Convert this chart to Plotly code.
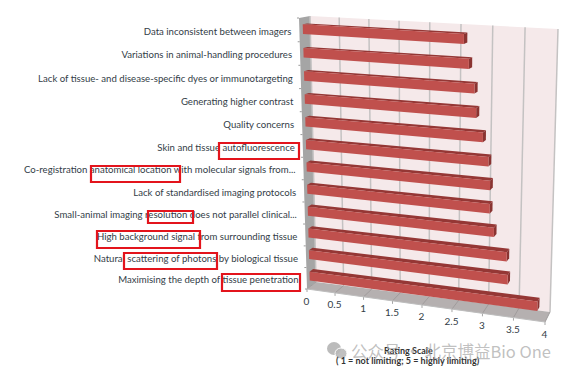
import numpy as np
import plotly.graph_objects as go

categories = [
    "Data inconsistent between imagers",
    "Variations in animal-handling procedures",
    "Lack of tissue- and disease-specific dyes or immunotargeting",
    "Generating higher contrast",
    "Quality concerns",
    "Skin and tissue autofluorescence",
    "Co-registration anatomical location with molecular signals from...",
    "Lack of standardised imaging protocols",
    "Small-animal imaging resolution does not parallel clinical...",
    "High background signal from surrounding tissue",
    "Natural scattering of photons by biological tissue",
    "Maximising the depth of tissue penetration",
]
values = [2.64, 2.72, 2.81, 2.84, 2.95, 3.04, 3.07, 3.07, 3.14, 3.35, 3.37, 3.85]
x_ticks = [0, 0.5, 1, 1.5, 2, 2.5, 3, 3.5, 4]
x_tick_labels = ["0", "0.5", "1", "1.5", "2", "2.5", "3", "3.5", "4"]
x_title = ["Rating Scale", "( 1 = not limiting; 5 = highly limiting)"]
watermark = "公众号 · 北京博益Bio One"


def homography(q):
    src = [(0, 0), (4, 0), (4, 12), (0, 12)]
    A, b = [], []
    for (s, t), (u, w) in zip(src, q):
        A.append([s, t, 1, 0, 0, 0, -u * s, -u * t]); b.append(u)
        A.append([0, 0, 0, s, t, 1, -w * s, -w * t]); b.append(w)
    return np.append(np.linalg.solve(np.array(A, float), np.array(b, float)), 1).reshape(3, 3)


FRONT = homography([(299, 18), (551, 33), (545, 322), (307, 289)])
BACK = homography([(310, 16), (558, 29), (550, 312), (316, 282)])


def proj(v, r, d):
    """value, row (0 top .. 12 bottom), depth (0 front .. 1 back) -> chart position."""
    a = FRONT @ [v, r, 1]
    b = BACK @ [v, r, 1]
    a, b = a[:2] / a[2], b[:2] / b[2]
    return (1 - d) * a + d * b


fig = go.Figure()


def poly(points, fill, line=None, width=0):
    xs = [p[0] for p in points] + [points[0][0]]
    ys = [p[1] for p in points] + [points[0][1]]
    fig.add_trace(go.Scatter(x=xs, y=ys, mode="lines", fill="toself", fillcolor=fill,
                             line=dict(color=line or fill, width=width),
                             hoverinfo="skip", showlegend=False))


def seg(a, b, color, width):
    fig.add_trace(go.Scatter(x=[a[0], b[0]], y=[a[1], b[1]], mode="lines",
                             line=dict(color=color, width=width),
                             hoverinfo="skip", showlegend=False))


# walls
poly([proj(0, 0, 0), proj(0, 0, 1), proj(0, 12, 1), proj(0, 12, 0)], "#a5a5a5")
poly([proj(0, 0, 1), proj(4, 0, 1), proj(4, 12, 1), proj(0, 12, 1)], "#f5e9ea")
poly([proj(0, 12, 0), proj(0, 12, 1), proj(4, 12, 1), proj(4, 12, 0)], "#b5b0b0")

# gridlines
for v in x_ticks:
    seg(proj(v, 0, 1), proj(v, 12, 1), "#c4c2c2", 1.5)
    seg(proj(v, 12, 1), proj(v, 12, 0), "#a09c9c", 1)
    p = proj(v, 12, 0)
    seg(p, p + np.array([0, 3]), "#a6a6a6", 1)
seg(proj(0, 12, 0), proj(4, 12, 0), "#bdbdbd", 1)
for r in range(13):
    p = proj(0, r, 0)
    seg(p, p + np.array([-2, 0]), "#9a9a9a", 1)

# bars
D0, D1, H = 0.32, 0.72, 0.205
for i, val in enumerate(values):
    c = i + 0.5
    t, b = c - H, c + H
    poly([proj(0, t, D0), proj(0, t, D1), proj(val, t, D1), proj(val, t, D0)], "#953735")
    poly([proj(val, t, D0), proj(val, t, D1), proj(val, b, D1), proj(val, b, D0)], "#8a3331")
    poly([proj(0, t, D0), proj(val, t, D0), proj(val, b, D0), proj(0, b, D0)], "#c0504d")

# text
FONT = "Lato"
lab = np.array([proj(0, i + 0.5, 0) for i in range(len(categories))])
fig.add_trace(go.Scatter(x=lab[:, 0] - 8, y=lab[:, 1] + 2.5, mode="text", text=categories,
                         textposition="middle left",
                         textfont=dict(family=FONT, size=9.6, color="#333d47"),
                         hoverinfo="skip", showlegend=False))
tk = np.array([proj(v, 12, 0) for v in x_ticks])
fig.add_trace(go.Scatter(x=tk[:, 0] - 0.5, y=tk[:, 1] + 13, mode="text", text=x_tick_labels,
                         textposition="middle center",
                         textfont=dict(family=FONT, size=10, color="#333d47"),
                         hoverinfo="skip", showlegend=False))

PAGE_MARGIN = 8  # the page body offsets the plot by this much
fig.update_layout(
    width=567 - PAGE_MARGIN, height=374 - PAGE_MARGIN, margin=dict(l=0, r=0, t=0, b=0),
    paper_bgcolor="white", plot_bgcolor="white", showlegend=False,
    xaxis=dict(range=[PAGE_MARGIN, 567], visible=False, fixedrange=True),
    yaxis=dict(range=[374, PAGE_MARGIN], visible=False, fixedrange=True),
    annotations=[
        dict(x=408, y=350, xref="x", yref="y", text=f"<b>{x_title[0]}</b>", showarrow=False,
             font=dict(family=FONT, size=9, color="#333333")),
        dict(x=408, y=360, xref="x", yref="y", text=f"<b>{x_title[1]}</b>", showarrow=False,
             font=dict(family=FONT, size=9, color="#333333")),
        dict(x=451, y=351, xref="x", yref="y", text=watermark, showarrow=False,
             font=dict(family="Noto Sans CJK SC", size=16.5, color="rgba(165,165,165,0.7)")),
    ],
    shapes=[
        dict(type="rect", xref="x", yref="y", x0=a, y0=b, x1=c, y1=d,
             line=dict(color="#e3141c", width=2.2))
        for a, b, c, d in [(219, 143, 299, 159), (91, 166, 180, 182), (148, 211, 193, 223),
                           (97, 231, 200, 248), (124, 253, 217, 269), (222, 274, 300, 291)]
    ] + [
        dict(type="circle", xref="x", yref="y", x0=327, y0=342, x1=341, y1=355,
             fillcolor="rgba(170,170,170,0.8)", line_width=0),
        dict(type="circle", xref="x", yref="y", x0=335, y0=348, x1=347, y1=359,
             fillcolor="rgba(185,185,185,0.9)", line=dict(color="white", width=1)),
    ],
)
fig.write_html("out.html")
